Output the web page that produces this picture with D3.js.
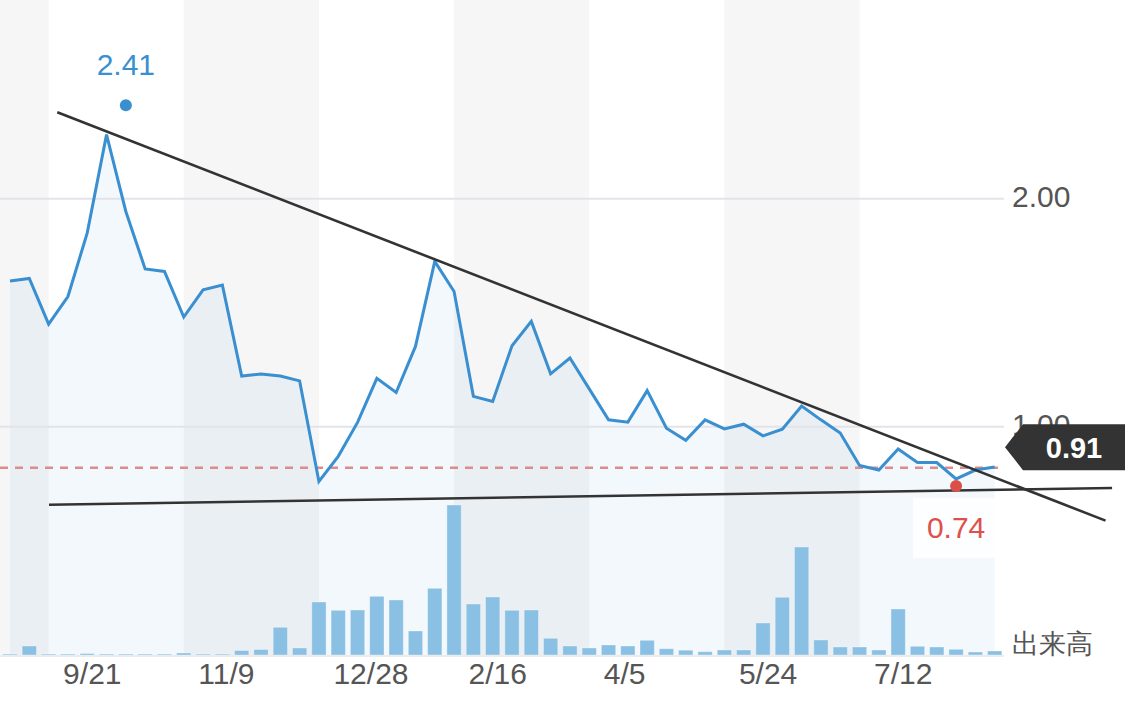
<!DOCTYPE html>
<html>
<head>
<meta charset="utf-8">
<script src="https://cdn.jsdelivr.net/npm/d3@7/dist/d3.min.js"></script>
<style>
  html, body { margin: 0; padding: 0; background: #fff; }
  svg { display: block; }
  text { font-family: "Liberation Sans", Arial, Helvetica, sans-serif; }
</style>
</head>
<body>
<svg id="chart" width="1125" height="705"></svg>
<script>
// ---- data ----
const prices = [1.639, 1.650, 1.450, 1.571, 1.850, 2.281, 1.944, 1.692, 1.681, 1.481,
                1.600, 1.621, 1.222, 1.231, 1.222, 1.201, 0.760, 0.870, 1.019, 1.212,
                1.150, 1.352, 1.725, 1.593, 1.133, 1.111, 1.355, 1.462, 1.232, 1.301,
                1.166, 1.030, 1.020, 1.158, 0.993, 0.940, 1.030, 0.990, 1.011, 0.960,
                0.989, 1.091, 1.030, 0.972, 0.830, 0.810, 0.902, 0.843, 0.843, 0.771,
                0.810, 0.823];
const volumes = [1, 9, 1, 1, 1.5, 1, 1, 1, 1, 2,
                 1, 1, 4.5, 5.5, 27.7, 7, 53, 44.7, 45, 58.7,
                 55, 24, 66.7, 150, 51, 58, 44.7, 45, 16.7, 9,
                 7, 10, 9, 14.7, 6.3, 4.8, 3.3, 5, 5, 32,
                 57.7, 108, 15, 8, 8, 5, 46, 8.7, 8, 5.7,
                 3, 4];
const tickIndex = [2, 9, 16, 23, 30, 37, 44];
const tickLabels = ["9/21", "11/9", "12/28", "2/16", "4/5", "5/24", "7/12"];
const bandEdges = [2, 9, 16, 23, 30, 37, 44, 51];
const yTicks = [2.00, 1.00];
const highPoint = { index: 6, value: 2.41 };
const lowPoint = { index: 49, value: 0.74 };
const lastPrice = 0.91;
const refLevel = 0.82;
const trendLines = [
  [[2.45, 2.379], [56.74, 0.588]],
  [[2.02, 0.658], [57.08, 0.731]]
];
const volumeLabel = "出来高";

// ---- scales ----
const svg = d3.select("#chart");
const W = 1125, H = 705;
const x = d3.scaleLinear().domain([0, prices.length - 1]).range([10, 994.7]);
const y = d3.scaleLinear().domain([1, 2]).range([426.7, 198.7]);
const baseY = 655;
const yv = d3.scaleLinear().domain([0, 150]).range([baseY, 505]);
const barW = 14.3;

svg.append("rect").attr("width", W).attr("height", H).attr("fill", "#fff");

// alternating gray bands
const grayBands = [[null, bandEdges[0]]];
for (let i = 1; i + 1 < bandEdges.length; i += 2) grayBands.push([bandEdges[i], bandEdges[i + 1]]);
svg.append("g").selectAll("rect").data(grayBands).join("rect")
  .attr("x", d => d[0] === null ? 0 : x(d[0]))
  .attr("width", d => x(d[1]) - (d[0] === null ? 0 : x(d[0])))
  .attr("y", 0).attr("height", baseY)
  .attr("fill", "#f6f6f6");

// area
const area = d3.area().x((d, i) => x(i)).y0(baseY).y1(d => y(d));
svg.append("path").datum(prices).attr("d", area)
  .attr("fill", "rgba(58,143,208,0.06)");

// gridlines
svg.append("g").selectAll("line").data(yTicks).join("line")
  .attr("x1", 0).attr("x2", 1004)
  .attr("y1", d => y(d)).attr("y2", d => y(d))
  .attr("stroke", "#e3e3ea").attr("stroke-width", 2);

// volume bars
svg.append("g").selectAll("rect").data(volumes).join("rect")
  .attr("x", (d, i) => x(i) - barW / 2)
  .attr("width", barW)
  .attr("y", d => yv(d))
  .attr("height", d => baseY - yv(d))
  .attr("fill", "#89c0e3")
  .attr("stroke", "rgba(255,255,255,0.35)").attr("stroke-width", 1);

// baseline
svg.append("line").attr("x1", 0).attr("x2", 1004).attr("y1", baseY + 1).attr("y2", baseY + 1)
  .attr("stroke", "#e6e6ea").attr("stroke-width", 1.5);

// dashed reference line
svg.append("line").attr("x1", 0).attr("x2", 998)
  .attr("y1", y(refLevel)).attr("y2", y(refLevel))
  .attr("stroke", "#dc8c8c").attr("stroke-width", 2.5)
  .attr("stroke-dasharray", "8,7");

// price line
const line = d3.line().x((d, i) => x(i)).y(d => y(d));
svg.append("path").datum(prices).attr("d", line)
  .attr("fill", "none").attr("stroke", "#3a8fd0").attr("stroke-width", 3)
  .attr("stroke-linejoin", "miter");

// trend lines
svg.append("g").selectAll("line").data(trendLines).join("line")
  .attr("x1", d => x(d[0][0])).attr("y1", d => y(d[0][1]))
  .attr("x2", d => x(d[1][0])).attr("y2", d => y(d[1][1]))
  .attr("stroke", "#333").attr("stroke-width", 2.6);

// white box behind low label
svg.append("rect").attr("x", x(lowPoint.index) - 43).attr("y", y(lowPoint.value) + 12)
  .attr("width", 82).attr("height", 60)
  .attr("fill", "#fff").attr("opacity", 0.8);

// high/low markers
svg.append("circle").attr("cx", x(highPoint.index)).attr("cy", y(highPoint.value))
  .attr("r", 6).attr("fill", "#3a8fd0");
svg.append("text").attr("x", x(highPoint.index)).attr("y", y(highPoint.value) - 30)
  .attr("text-anchor", "middle").attr("font-size", 30).attr("fill", "#3a8fd0")
  .text(highPoint.value.toFixed(2));
svg.append("circle").attr("cx", x(lowPoint.index)).attr("cy", y(lowPoint.value))
  .attr("r", 6).attr("fill", "#db4f49");
svg.append("text").attr("x", x(lowPoint.index)).attr("y", y(lowPoint.value) + 52)
  .attr("text-anchor", "middle").attr("font-size", 30).attr("fill", "#e0504a")
  .text(lowPoint.value.toFixed(2));

// y axis labels
svg.append("g").selectAll("text").data(yTicks).join("text")
  .attr("x", 1012).attr("y", d => y(d) + 8.5)
  .attr("font-size", 30).attr("fill", "#555")
  .text(d => d.toFixed(2));

// x axis labels
svg.append("g").selectAll("text").data(tickIndex).join("text")
  .attr("x", d => x(d) + 14.5).attr("y", 684)
  .attr("font-size", 30).attr("fill", "#555")
  .text((d, i) => tickLabels[i]);

// volume label
svg.append("text").attr("x", 1012).attr("y", 653)
  .attr("font-family", "'Noto Sans CJK JP', sans-serif")
  .attr("font-size", 27).attr("fill", "#555")
  .text(volumeLabel);

// last price tag
const ty = y(lastPrice);
svg.append("path")
  .attr("d", `M1005,${ty} L1023,${ty - 23} L1125,${ty - 23} L1125,${ty + 23} L1023,${ty + 23} Z`)
  .attr("fill", "#333");
svg.append("text").attr("x", 1074).attr("y", ty + 10.5)
  .attr("text-anchor", "middle").attr("font-size", 29).attr("font-weight", "bold")
  .attr("fill", "#fff").text(lastPrice.toFixed(2));
</script>
</body>
</html>
